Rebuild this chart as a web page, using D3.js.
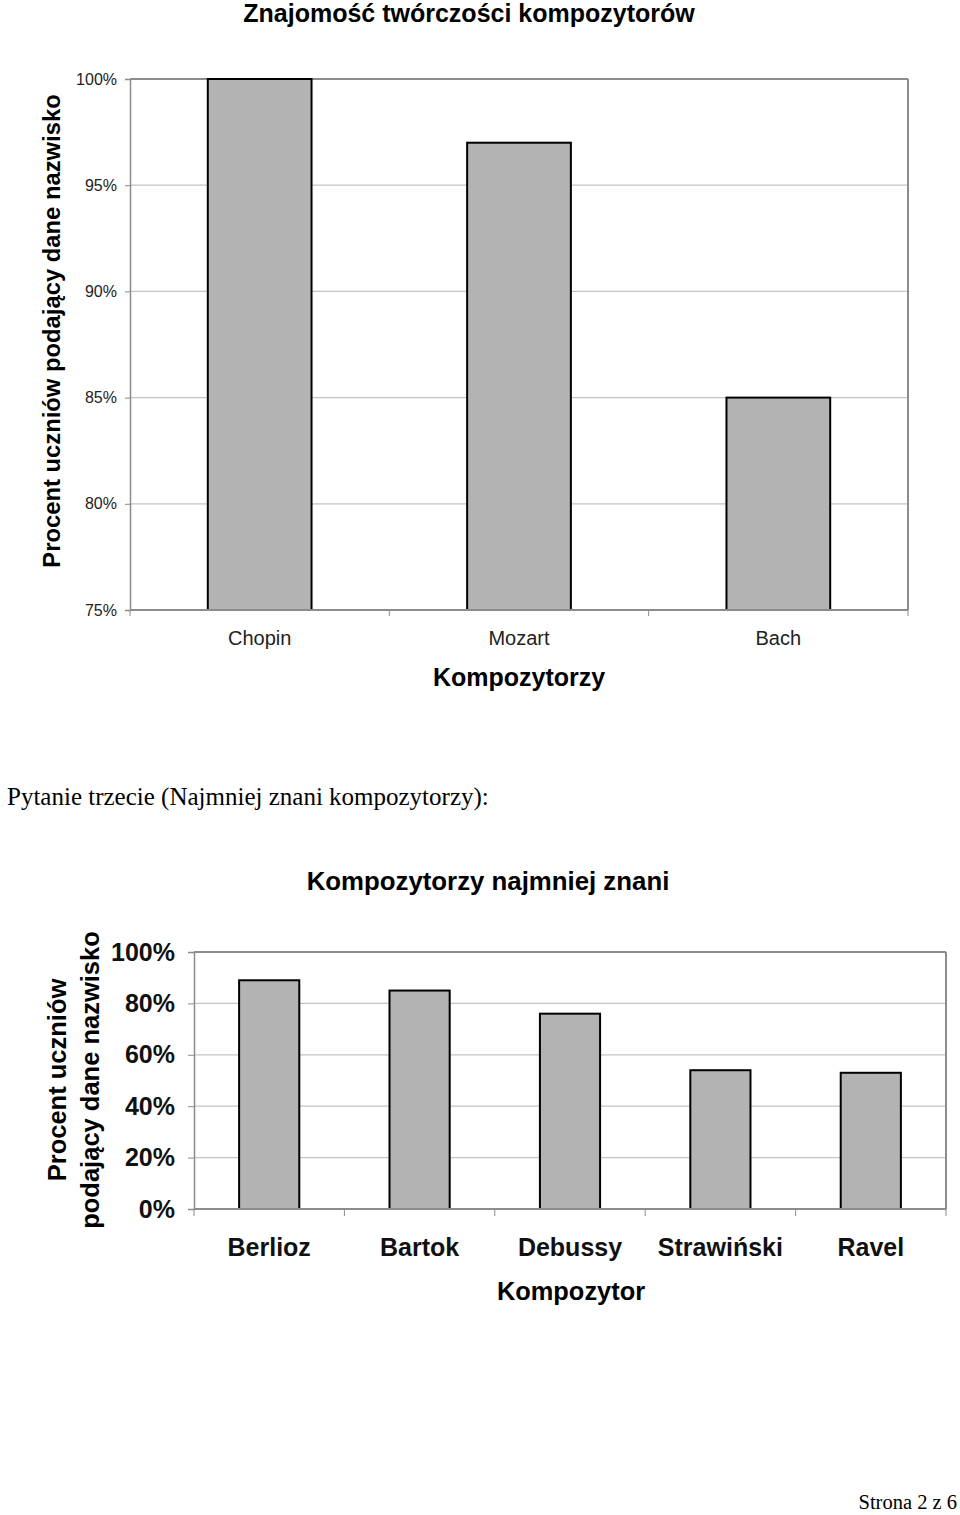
<!DOCTYPE html>
<html><head><meta charset="utf-8">
<script src="https://cdn.jsdelivr.net/npm/d3@7"></script>
<style>
body{margin:0;background:#fff;}
svg{display:block;}
</style></head>
<body>
<script>
const composers1 = ["Chopin","Mozart","Bach"];
const values1 = [100, 97, 85];
const ticks1 = [75,80,85,90,95,100];

const composers2 = ["Berlioz","Bartok","Debussy","Strawiński","Ravel"];
const values2 = [89, 85, 76, 54, 53];
const ticks2 = [0,20,40,60,80,100];

const W = 960, H = 1515;
const svg = d3.select("body").append("svg").attr("width", W).attr("height", H);
const narrow = "'Liberation Sans Narrow','Arial Narrow','Liberation Sans',Arial,sans-serif";
const sans = "'Liberation Sans',Arial,sans-serif";
const serif = "'Liberation Serif','Times New Roman',serif";
const gridC = "#c4c4c4", axisC = "#8c8c8c", barC = "#b3b3b3";

// Chart 1
(function(){
  const L=130, R=908, T=79, B=610;
  const x = d3.scaleBand().domain(composers1).range([L,R]).paddingInner(0.6).paddingOuter(0.3);
  const y = d3.scaleLinear().domain([75,100]).range([B,T]);
  svg.append("text").attr("x",469).attr("y",22).attr("text-anchor","middle")
    .attr("font-family",narrow).attr("font-weight","bold").attr("font-size",25).text("Znajomość twórczości kompozytorów");
  const g = svg.append("g");
  g.selectAll("line.grid").data(ticks1).join("line").attr("x1",L).attr("x2",R)
    .attr("y1",d=>y(d)).attr("y2",d=>y(d)).attr("stroke",d=>d===100?axisC:gridC).attr("stroke-width",d=>d===100?2:1.2);
  g.append("line").attr("x1",R).attr("x2",R).attr("y1",T).attr("y2",B).attr("stroke",axisC).attr("stroke-width",2);
  const yAxis = g.append("g").attr("transform",`translate(${L},0)`)
    .call(d3.axisLeft(y).tickValues(ticks1).tickFormat(d=>d+"%").tickSize(5).tickPadding(8));
  yAxis.select(".domain").attr("stroke",axisC).attr("stroke-width",1.5);
  yAxis.selectAll(".tick line").attr("stroke",axisC);
  yAxis.selectAll("text").attr("font-family",sans).attr("font-size",16).attr("fill","#222");
  const xt = composers1.map((d,i)=>L + i*(R-L)/composers1.length).concat([R]);
  g.selectAll("line.xt").data(xt).join("line").attr("x1",d=>d).attr("x2",d=>d).attr("y1",B).attr("y2",B+6).attr("stroke",axisC);
  g.selectAll("rect").data(values1).join("rect")
    .attr("x",(d,i)=>x(composers1[i])).attr("width",x.bandwidth())
    .attr("y",d=>y(d)).attr("height",d=>B-y(d))
    .attr("fill",barC).attr("stroke","#000").attr("stroke-width",2);
  g.append("line").attr("x1",L).attr("x2",R).attr("y1",B).attr("y2",B).attr("stroke",axisC).attr("stroke-width",2);
  g.selectAll("text.xl").data(composers1).join("text").attr("class","xl")
    .attr("x",d=>x(d)+x.bandwidth()/2).attr("y",645).attr("text-anchor","middle")
    .attr("font-family",sans).attr("font-size",20).attr("fill","#222").text(d=>d);
  svg.append("text").attr("x",519).attr("y",686).attr("text-anchor","middle")
    .attr("font-family",sans).attr("font-weight","bold").attr("font-size",25).text("Kompozytorzy");
  svg.append("text").attr("transform","translate(60,331) rotate(-90)").attr("text-anchor","middle")
    .attr("font-family",sans).attr("font-weight","bold").attr("font-size",23.8).text("Procent uczniów podający dane nazwisko");
})();

svg.append("text").attr("x",7).attr("y",805).attr("font-family",serif).attr("font-size",25).text("Pytanie trzecie (Najmniej znani kompozytorzy):");

// Chart 2
(function(){
  const L=194, R=946, T=952, B=1209;
  const x = d3.scaleBand().domain(composers2).range([L,R]).paddingInner(0.6).paddingOuter(0.3);
  const y = d3.scaleLinear().domain([0,100]).range([B,T]);
  svg.append("text").attr("x",488).attr("y",890).attr("text-anchor","middle")
    .attr("font-family",narrow).attr("font-weight","bold").attr("font-size",25.8).text("Kompozytorzy najmniej znani");
  const g = svg.append("g");
  g.selectAll("line.grid").data(ticks2).join("line").attr("x1",L).attr("x2",R)
    .attr("y1",d=>y(d)).attr("y2",d=>y(d)).attr("stroke",d=>d===100?axisC:gridC).attr("stroke-width",d=>d===100?2:1.2);
  g.append("line").attr("x1",R).attr("x2",R).attr("y1",T).attr("y2",B).attr("stroke",axisC).attr("stroke-width",2);
  const yAxis = g.append("g").attr("transform",`translate(${L},0)`)
    .call(d3.axisLeft(y).tickValues(ticks2).tickFormat(d=>d+"%").tickSize(6).tickPadding(13));
  yAxis.select(".domain").attr("stroke",axisC).attr("stroke-width",1.5);
  yAxis.selectAll(".tick line").attr("stroke",axisC);
  yAxis.selectAll("text").attr("font-family",sans).attr("font-weight","bold").attr("font-size",25).attr("fill","#111");
  const xt = composers2.map((d,i)=>L + i*(R-L)/composers2.length).concat([R]);
  g.selectAll("line.xt").data(xt).join("line").attr("x1",d=>d).attr("x2",d=>d).attr("y1",B).attr("y2",B+7).attr("stroke",axisC);
  g.selectAll("rect").data(values2).join("rect")
    .attr("x",(d,i)=>x(composers2[i])).attr("width",x.bandwidth())
    .attr("y",d=>y(d)).attr("height",d=>B-y(d))
    .attr("fill",barC).attr("stroke","#000").attr("stroke-width",2);
  g.append("line").attr("x1",L).attr("x2",R).attr("y1",B).attr("y2",B).attr("stroke",axisC).attr("stroke-width",2);
  g.selectAll("text.xl").data(composers2).join("text").attr("class","xl")
    .attr("x",d=>x(d)+x.bandwidth()/2).attr("y",1256).attr("text-anchor","middle")
    .attr("font-family",sans).attr("font-weight","bold").attr("font-size",25).attr("fill","#111").text(d=>d);
  svg.append("text").attr("x",571).attr("y",1300).attr("text-anchor","middle")
    .attr("font-family",sans).attr("font-weight","bold").attr("font-size",25.4).text("Kompozytor");
  svg.append("text").attr("transform","translate(66,1080) rotate(-90)").attr("text-anchor","middle")
    .attr("font-family",sans).attr("font-weight","bold").attr("font-size",25.5).text("Procent uczniów");
  svg.append("text").attr("transform","translate(99,1080) rotate(-90)").attr("text-anchor","middle")
    .attr("font-family",sans).attr("font-weight","bold").attr("font-size",25.5).text("podający dane nazwisko");
})();

svg.append("text").attr("x",957).attr("y",1509).attr("text-anchor","end").attr("font-family",serif).attr("font-size",20.5).text("Strona 2 z 6");
</script>
</body></html>
